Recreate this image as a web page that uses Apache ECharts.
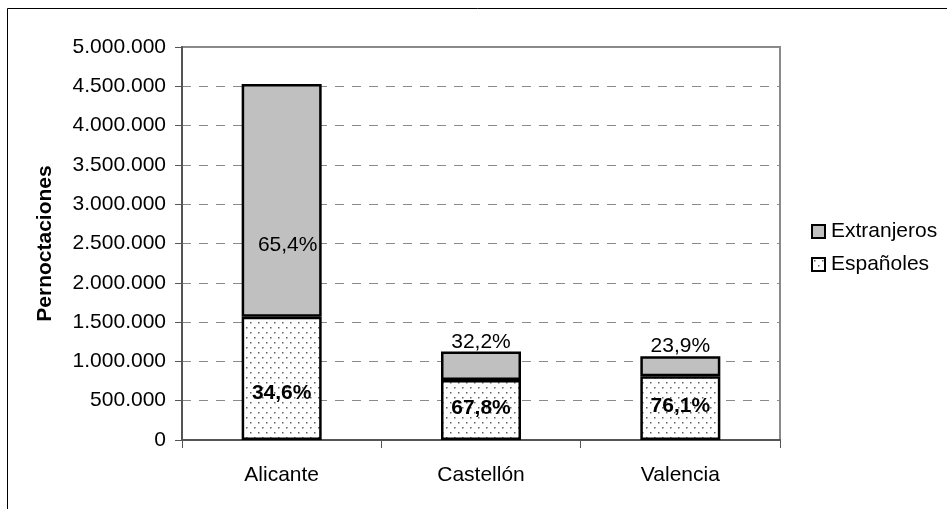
<!DOCTYPE html>
<html>
<head>
<meta charset="utf-8">
<script src="https://cdn.jsdelivr.net/npm/echarts@6/dist/echarts.min.js"></script>
<style>
  html, body { margin: 0; padding: 0; background: #fff; }
  #chart { width: 947px; height: 509px; }
</style>
</head>
<body>
<div id="chart"></div>
<script>
// Pernoctaciones por provincia, desglose españoles / extranjeros
var provincias = ['Alicante', 'Castellón', 'Valencia'];
var espanoles = [1567000, 763000, 810000];
var extranjeros = [2963000, 362000, 255000];
var pctEspanoles = [34.6, 67.8, 76.1];
var pctExtranjeros = [65.4, 32.2, 23.9];
var yTicks = { min: 0, max: 5000000, step: 500000 };

// vertical nudges for the percentage labels (layout only)
var offExt = [[6, 45], [0, -24], [0, -20]];
var offEsp = [[0, 15], [0, -2], [0, -2]];

var FONT = '"Liberation Sans", Arial, sans-serif';

// dotted fill used for the "Españoles" segments
function dotPattern() {
  var c = document.createElement('canvas');
  c.width = 8; c.height = 10;
  var g = c.getContext('2d');
  g.fillStyle = '#ffffff';
  g.fillRect(0, 0, 8, 10);
  g.fillStyle = '#606060';
  g.fillRect(2, 2, 1.5, 1.5);
  g.fillRect(6, 7, 1.5, 1.5);
  return c;
}

function fmtThousands(v) {
  return String(v).replace(/\B(?=(\d{3})+(?!\d))/g, '.');
}
function fmtPct(p) {
  return p.toFixed(1).replace('.', ',') + '%';
}

var chart = echarts.init(document.getElementById('chart'), null, { renderer: 'canvas' });

var espData = espanoles.map(function (v, i) {
  return { value: v, label: { offset: offEsp[i] } };
});
var extData = extranjeros.map(function (v, i) {
  return { value: v, label: { offset: offExt[i] } };
});

chart.setOption({
  animation: false,
  backgroundColor: '#ffffff',
  textStyle: { fontFamily: FONT },
  graphic: [{
    type: 'rect',
    shape: { x: 7.5, y: 8.5, width: 1000, height: 600 },
    style: { fill: 'none', stroke: '#000000', lineWidth: 1 },
    silent: true
  }],
  grid: {
    left: 182, right: 167, top: 47, bottom: 69,
    show: true, borderColor: '#8a8a8a', borderWidth: 2, backgroundColor: 'transparent'
  },
  legend: {
    orient: 'vertical',
    left: 806, top: 216,
    icon: 'rect',
    itemWidth: 13, itemHeight: 13, itemGap: 12,
    itemStyle: { borderWidth: 2, borderColor: '#000' },
    data: ['Extranjeros', 'Españoles'],
    textStyle: { fontFamily: FONT, fontSize: 21, color: '#000', padding: [0, 0, 0, 1] }
  },
  xAxis: {
    type: 'category',
    data: provincias,
    axisLine: { lineStyle: { color: '#555555', width: 2 } },
    axisTick: { show: true, length: 8, lineStyle: { color: '#555555', width: 1 } },
    axisLabel: { color: '#000', fontSize: 21, fontFamily: FONT, margin: 25 }
  },
  yAxis: {
    type: 'value',
    min: yTicks.min, max: yTicks.max, interval: yTicks.step,
    name: 'Pernoctaciones',
    nameLocation: 'middle',
    nameGap: 126,
    nameTextStyle: { fontFamily: FONT, fontSize: 21, fontWeight: 'bold', color: '#000' },
    axisLine: { show: true, lineStyle: { color: '#555555', width: 2 } },
    axisTick: { show: true, length: 7, lineStyle: { color: '#555555', width: 1 } },
    axisLabel: { color: '#000', fontSize: 21, fontFamily: FONT, margin: 16, formatter: fmtThousands },
    splitLine: { show: true, lineStyle: { color: '#8a8a8a', width: 1, type: [9, 8] } }
  },
  series: [{
    name: 'Españoles',
    type: 'bar',
    stack: 'total',
    barWidth: 80,
    data: espData,
    itemStyle: { color: { image: dotPattern(), repeat: 'repeat' }, borderColor: '#000', borderWidth: 2.5 },
    label: {
      show: true, position: 'inside',
      fontFamily: FONT, fontSize: 21, fontWeight: 'bold', color: '#000',
      formatter: function (p) { return fmtPct(pctEspanoles[p.dataIndex]); }
    }
  }, {
    name: 'Extranjeros',
    type: 'bar',
    stack: 'total',
    barWidth: 80,
    data: extData,
    itemStyle: { color: '#c0c0c0', borderColor: '#000', borderWidth: 2.5 },
    label: {
      show: true, position: 'inside',
      fontFamily: FONT, fontSize: 21, color: '#000',
      formatter: function (p) { return fmtPct(pctExtranjeros[p.dataIndex]); }
    }
  }]
});
</script>
</body>
</html>
